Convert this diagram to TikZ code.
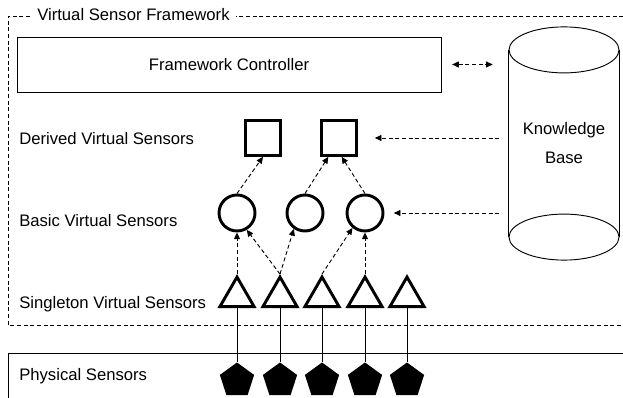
\documentclass[tikz,border=0pt]{standalone}
\usepackage{fontspec}
\setmainfont{Liberation Sans}
\usepackage{tikz}
\usetikzlibrary{shapes.geometric,arrows.meta}

\begin{document}
\begin{tikzpicture}[x=0.75pt,y=-0.75pt,
  font=\fontsize{12.5}{15}\selectfont,
  thinline/.style={line width=0.7pt},
  frame/.style={line width=0.7pt,dash pattern=on 3pt off 2pt},
  link/.style={line width=0.7pt,dash pattern=on 3pt off 2pt,-{Triangle[length=5pt,width=4.5pt]}},
  layer/.style={anchor=base west,inner sep=0pt},
  derived/.style={draw,line width=2.2pt,rectangle,minimum size=26pt,inner sep=0pt},
  basic/.style={draw,line width=2.2pt,circle,minimum size=27pt,inner sep=0pt},
  single/.style={draw,line width=2.2pt,regular polygon,regular polygon sides=3,minimum size=29.5pt,inner sep=0pt},
  physical/.style={fill=black,regular polygon,regular polygon sides=5,minimum size=27pt,inner sep=0pt}]
\useasboundingbox (0,0) rectangle (623,398);
\clip (0,0) rectangle (623,398);
% framework border and physical layer box
\draw[frame] (630,16) -| (8,325) -- (630,325);
\node[fill=white,anchor=west,inner xsep=4.5pt,inner ysep=1pt] (title) at (31,15) {Virtual Sensor Framework};
\draw[thinline] (630,353) -| (8,405);
% layer names
\node[layer] (lderived) at (19,145) {Derived Virtual Sensors};
\node[layer] (lbasic) at (19,227) {Basic Virtual Sensors};
\node[layer] (lsingle) at (19,308) {Singleton Virtual Sensors};
\node[layer] (lphys) at (19,380) {Physical Sensors};
% controller and knowledge base
\node[draw,thinline,minimum width=318pt,minimum height=41.25pt] (ctrl) at (229,64.5) {Framework Controller};
\node[minimum width=82.5pt,minimum height=140pt,align=center,font=\fontsize{12.5}{21.75}\selectfont] (kb) at (564,143.5) {Knowledge\\Base};
\draw[thinline] (kb.north west) -- (kb.south west);
\draw[thinline] (kb.north east) -- (kb.south east);
\draw[thinline,fill=white] (kb.north) ellipse [x radius=41.25pt,y radius=17.25pt];
\draw[thinline] (kb.south) ellipse [x radius=41.25pt,y radius=17.25pt];
% virtual sensors
\node[derived] (s1) at (263,138) {};
\node[derived] (s2) at (339,138) {};
\node[basic] (c1) at (237,213) {};
\node[basic] (c2) at (305,213) {};
\node[basic] (c3) at (365,213) {};
\foreach \i/\x in {1/237,2/280,3/322,4/365,5/407} {
  \node[single] (t\i) at (\x,296.7) {};
  \node[physical] (p\i) at (\x,380.5) {};
  \draw[thinline] (t\i.south) -- (p\i.north);
}
% dependencies
\draw[link] (t1.north) -- (c1.south);
\draw[link] (t2.north) -- (c1.-60);
\draw[link] (t2.north) -- (c2.-125);
\draw[link] (t3.north) -- (c3.-130);
\draw[link] (t4.north) -- (c3.south);
\draw[link] (c1.north) -- (s1.south);
\draw[link] (c2.north) -- ([xshift=-8pt]s2.south);
\draw[link] (c3.north) -- ([xshift=2pt]s2.south);
% knowledge base links
\draw[link,shorten <=7pt,shorten >=12.75pt] (kb.west |- s2.east) -- (s2.east);
\draw[link,shorten <=7pt,shorten >=7pt] (kb.west |- c3.east) -- (c3.east);
\draw[link,{Triangle[length=5pt,width=4.5pt]}-{Triangle[length=5pt,width=4.5pt]},shorten <=8pt,shorten >=12pt] (ctrl.east) -- (ctrl.east -| kb.west);
\end{tikzpicture}
\end{document}
